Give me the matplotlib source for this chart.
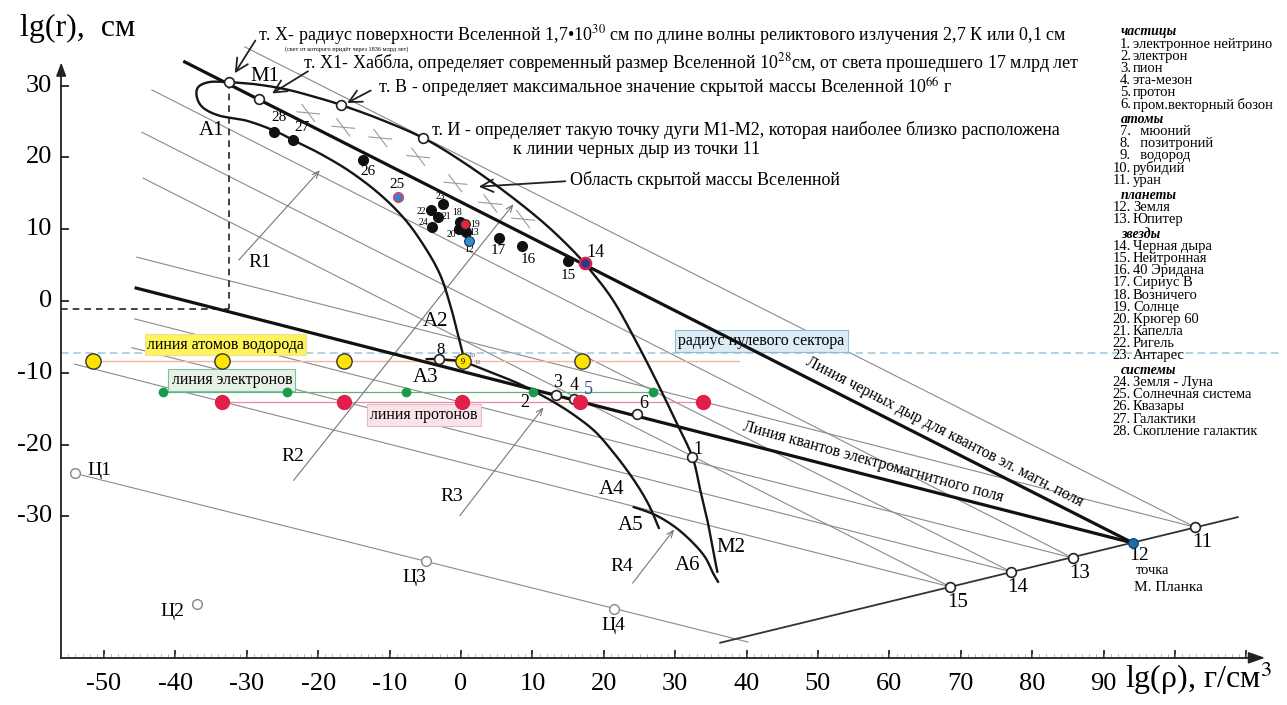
import numpy as np
import matplotlib
matplotlib.use('Agg')
import matplotlib.pyplot as plt

plt.rcParams['font.family'] = ['Liberation Serif', 'DejaVu Serif']
plt.rcParams['mathtext.fontset'] = 'stix'

# ---- data (lg rho, lg r) ----
planck = (94.1, -33.7)
bh_start = (-38.7, 33.3)          # black hole line -> Planck point
quanta_start = (-45.5, 1.8)       # quanta line -> Planck point

base_x = [36.3, 108.8]
base_y = [-47.6, -30.1]
base_names = ['11', '13', '14', '15']
base_pt_x = [102.8, 85.7, 77.0, 68.5]
base_pt_y = [-31.5, -35.8, -37.7, -39.8]

steep_x0 = [-30.3, -43.3, -44.7, -44.5]
steep_y0 = [35.4, 29.4, 23.5, 17.1]
shallow_x0 = [-45.4, -45.7, -46.1, -54.1]
shallow_y0 = [6.1, -2.5, -6.5, -8.8]

ts_names = ['Ц1', 'Ц2', 'Ц3', 'Ц4']
ts_x = [-54.1, -37.0, -4.9, 21.4]
ts_y = [-24.0, -42.2, -36.2, -42.9]
ts_lx = [-50.6, -40.4, -6.6, 21.4]
ts_ly = [-23.6, -43.3, -38.5, -45.2]
ts_line_x = [-54.1, 40.2]
ts_line_y = [-24.0, -47.5]

open_x = [-32.5, -28.3, -16.8, -5.3, -3.1, 13.3, 15.8, 24.6, 32.4]
open_y = [30.5, 28.1, 27.3, 22.7, -8.1, -13.1, -13.6, -15.7, -21.7]

obj_num = ['28', '27', '26', '23', '22', '21', '24', '18', '20', '13', '17', '16', '15']
obj_x = [-26.2, -23.5, -13.7, -2.5, -4.2, -3.2, -4.1, -0.1, -0.3, 0.7, 5.3, 8.5, 15.0]
obj_y = [23.5, 22.4, 19.6, 13.5, 12.7, 11.7, 10.3, 11.0, 10.0, 9.6, 8.8, 7.7, 5.6]
obj_lx = [-25.5, -22.3, -13.0, -2.9, -5.5, -2.0, -5.3, -0.6, -1.3, 1.8, 5.2, 9.4, 15.0]
obj_ly = [25.5, 24.2, 18.0, 14.5, 12.4, 11.7, 10.9, 12.3, 9.3, 9.5, 7.1, 5.8, 3.5]
obj_fs = [11, 11, 11, 7, 7, 7, 7, 7, 7, 7, 11, 11, 11]

cross_x = [-21.4, -16.5, -11.3, -6.0, -0.8, 4.1, 8.7]
cross_y = [26.2, 24.2, 22.7, 20.1, 16.4, 13.6, 11.4]

h_y, e_y, p_y, zero_y = -8.4, -12.7, -14.1, -7.3
h_x = [-51.5, -33.5, -16.4, 0.3, 16.9]
e_x = [-41.7, -24.4, -7.7, 10.1, 26.9]
p_x = [-33.5, -16.4, 0.1, 16.7, 33.9]

# curves
curveA_x = [-32.5, -35.2, -36.8, -37.0, -36.1, -33.8, -30.0, -26.1, -23.5, -19.7, -15.5,
            -11.3, -7.8, -5.0, -2.9, -1.5, -0.6, 0.1, 0.6]
curveA_y = [30.5, 30.5, 29.8, 28.4, 26.9, 25.8, 25.1, 23.7, 22.4, 20.5, 18.0,
            14.8, 11.3, 7.4, 3.6, -0.6, -4.0, -6.8, -8.5]
curveM_x = [-32.5, -28.9, -24.6, -20.4, -16.8, -11.3, -5.3, -0.1, 5.5, 11.1, 15.3, 18.1,
            21.3, 24.4, 27.5, 30.0, 32.4, 33.5, 34.5, 35.3, 35.9]
curveM_y = [30.5, 30.2, 29.5, 28.4, 27.3, 25.3, 22.7, 19.6, 15.7, 11.3, 7.4, 4.3,
            0.1, -5.4, -11.4, -16.6, -21.7, -26.3, -30.5, -34.7, -37.7]
curveC_x = [-4.8, -3.1, 0.3, 4.1, 7.6, 10.1, 13.2, 16.0, 18.8, 21.1, 23.2, 25.1, 26.5, 27.7]
curveC_y = [-8.1, -8.1, -8.5, -9.9, -11.3, -12.5, -14.2, -16.0, -18.2, -20.8, -23.5, -26.3, -28.8, -31.6]
curveA5_x = [24.2, 27.2, 30.0, 32.4, 34.2, 35.3, 36.0]
curveA5_y = [-28.7, -29.8, -31.5, -33.6, -35.7, -37.9, -39.1]

R_names = ['R1', 'R2', 'R3', 'R4']
R_x0 = [-31.4, -23.7, -0.4, 23.8]
R_y0 = [5.4, -25.3, -30.2, -39.6]
R_x1 = [-19.5, 7.6, 11.8, 30.1]
R_y1 = [18.5, 13.8, -14.5, -31.5]
R_lx = [-28.2, -23.5, -1.3, 22.5]
R_ly = [5.3, -21.6, -27.3, -37.0]

legend_groups = [
    ('частицы', ['1. электронное нейтрино', '2. электрон', '3. пион', '4. эта-мезон',
                 '5. протон', '6. пром.векторный бозон']),
    ('атомы', ['7.  мюоний', '8.  позитроний', '9.  водород', '10. рубидий', '11. уран']),
    ('планеты', ['12. Земля', '13. Юпитер']),
    ('звезды', ['14. Черная дыра', '15. Нейтронная', '16. 40 Эридана', '17. Сириус В',
                '18. Возничего', '19. Солнце', '20. Крюгер 60', '21. Капелла', '22. Ригель',
                '23. Антарес']),
    ('системы', ['24. Земля - Луна', '25. Солнечная система', '26. Квазары',
                 '27. Галактики', '28. Скопление галактик']),
]


def smooth(xs, ys, n=16):
    pts = np.column_stack([xs, ys]).astype(float)
    p = np.vstack([pts[0], pts, pts[-1]])
    out = []
    t = np.linspace(0, 1, n, endpoint=False)[:, None]
    for i in range(1, len(p) - 2):
        p0, p1, p2, p3 = p[i - 1], p[i], p[i + 1], p[i + 2]
        out.append(0.5 * (2 * p1 + (-p0 + p2) * t + (2 * p0 - 5 * p1 + 4 * p2 - p3) * t ** 2
                          + (-p0 + 3 * p1 - 3 * p2 + p3) * t ** 3))
    out.append(pts[-1][None])
    s = np.vstack(out)
    return s[:, 0], s[:, 1]


W, H = 1287, 705
fig = plt.figure(figsize=(W / 100, H / 100), dpi=100)
fig.patch.set_facecolor('white')
ax = fig.add_axes([10 / W, 0, 1 - 10 / W, 1 - 12 / H])
ax.set_facecolor('#f8f6f0')
ax.set_xlim(-63.17, 115.69)
ax.set_ylim(-56.27, 40.25)
ax.axis('off')

thin = dict(color='#8a8a8a', lw=0.8, zorder=2)

# ---- axes ----
ax.plot([-56, -56], [-49.7, 32.0], color='#222222', lw=1.3, zorder=3)
ax.annotate('', xy=(-56, 33.6), xytext=(-56, 31.5),
            arrowprops=dict(arrowstyle='-|>,head_length=0.8,head_width=0.3', color='#222222', lw=1.2))
ax.plot([-56, 111], [-49.7, -49.7], color='#222222', lw=1.3, zorder=3)
ax.annotate('', xy=(113.0, -49.7), xytext=(110, -49.7),
            arrowprops=dict(arrowstyle='-|>,head_length=1.0,head_width=0.35', color='#222222', lw=1.2))
for v in range(-30, 31, 10):
    ax.plot([-56, -55.1], [v, v], color='#222222', lw=1.3)
    ax.text(-57.3, v, '%d' % v, ha='right', va='center', fontsize=19)
for v in range(-50, 111, 10):
    ax.plot([v, v], [-49.7, -48.7], color='#222222', lw=1.3)
    if v <= 90:
        ax.text(v, -53.3, '%d' % v, ha='center', va='center', fontsize=19)
for v in range(-55, 111):
    ax.plot([v, v], [-49.7, -49.2], color='#8aa4b8', lw=0.5)
ax.text(-61.8, 38.0, 'lg(r),  см', ha='left', va='center', fontsize=23)
ax.text(93.0, -52.6, 'lg(ρ), г/см$^3$', ha='left', va='center', fontsize=23)

# ---- thin sector lines ----
for x0, y0, xe, ye in zip(steep_x0, steep_y0, base_pt_x, base_pt_y):
    ax.plot([x0, xe], [y0, ye], **thin)
for x0, y0, xe, ye in zip(shallow_x0, shallow_y0, base_pt_x, base_pt_y):
    ax.plot([x0, xe], [y0, ye], **thin)
ax.plot(ts_line_x, ts_line_y, **thin)
ax.plot(base_x, base_y, color='#333333', lw=1.3, zorder=3)

# ---- horizontal lines ----
ax.plot([-56, 115], [zero_y, zero_y], color='#9cc5dc', lw=1.1, ls=(0, (5, 3)), zorder=2)
ax.plot([h_x[0], 39], [h_y, h_y], color='#f0b898', lw=1.0, zorder=2)
ax.plot([e_x[0], e_x[-1]], [e_y, e_y], color='#5cb87a', lw=0.9, zorder=2)
ax.plot([p_x[0], p_x[-1]], [p_y, p_y], color='#e88aa0', lw=0.9, zorder=2)

# dashed guide from point X
ax.plot([open_x[0], open_x[0]], [open_y[0], -1.1], color='#222222', lw=1.2, ls=(0, (4, 3)), zorder=3)
ax.plot([-56, open_x[0]], [-1.1, -1.1], color='#222222', lw=1.2, ls=(0, (4, 3)), zorder=3)

# ---- thick lines ----
ax.plot([bh_start[0], planck[0]], [bh_start[1], planck[1]], color='#111111', lw=2.3, zorder=4)
ax.plot([quanta_start[0], planck[0]], [quanta_start[1], planck[1]], color='#111111', lw=2.3, zorder=4)

# ---- curves ----
for cx, cy in [(curveA_x, curveA_y), (curveM_x, curveM_y), (curveC_x, curveC_y), (curveA5_x, curveA5_y)]:
    sx, sy = smooth(cx, cy)
    ax.plot(sx, sy, color='#151515', lw=1.7, zorder=4)

# ---- crosses (hidden mass region) ----
for cx, cy in zip(cross_x, cross_y):
    ax.plot([cx - 1.6, cx + 1.6], [cy + 0.15, cy - 0.15], color='#9a9a9a', lw=0.8, zorder=3)
    ax.plot([cx - 0.9, cx + 0.9], [cy + 1.2, cy - 1.2], color='#9a9a9a', lw=0.8, zorder=3)

# ---- R arrows ----
for name, x0, y0, x1, y1, lx, ly in zip(R_names, R_x0, R_y0, R_x1, R_y1, R_lx, R_ly):
    ax.annotate('', xy=(x1, y1), xytext=(x0, y0),
                arrowprops=dict(arrowstyle='->,head_length=0.5,head_width=0.2', color='#777777', lw=0.8))
    ax.text(lx, ly, name, ha='center', va='center', fontsize=14)

# ---- points ----
ax.plot(open_x, open_y, 'o', ms=7, mfc='white', mec='#222222', mew=1.2, zorder=6)
ax.plot(base_pt_x, base_pt_y, 'o', ms=7, mfc='white', mec='#222222', mew=1.2, zorder=6)
ax.plot(ts_x, ts_y, 'o', ms=7, mfc='white', mec='#888888', mew=1.0, zorder=6)
ax.plot(obj_x, obj_y, 'o', ms=7, color='#111111', zorder=6)
ax.plot([-8.8], [14.5], 'o', ms=7, mfc='#3b7fc4', mec='#e0405a', mew=1.0, zorder=6)   # 25
ax.plot([0.6], [10.7], 'o', ms=7, mfc='#e02a3a', mec='#222222', mew=0.8, zorder=7)    # 19
ax.plot([1.1], [8.4], 'o', ms=7, mfc='#2f8fd0', mec='#1a3050', mew=0.8, zorder=6)     # 12
ax.plot([17.4], [5.3], 'o', ms=8, mfc='#2a3a8a', mec='#e0204a', mew=1.8, zorder=6)    # 14
ax.plot([planck[0]], [planck[1]], 'o', ms=7, mfc='#1b6fb0', mec='#0c3a60', mew=0.8, zorder=7)

ax.plot(h_x, [h_y] * len(h_x), 'o', ms=11, mfc='#ffe400', mec='#333333', mew=1.0, zorder=6)
ax.plot(e_x, [e_y] * len(e_x), 'o', ms=6, color='#1b9a4a', zorder=6)
ax.plot(p_x, [p_y] * len(p_x), 'o', ms=10, color='#e0204a', zorder=6)

# ---- point labels ----
for n, lx, ly, fs in zip(obj_num, obj_lx, obj_ly, obj_fs):
    ax.text(lx, ly, n, ha='center', va='center', fontsize=fs)
ax.text(-9.0, 16.2, '25', ha='center', va='center', fontsize=11)
ax.text(2.0, 10.6, '19', ha='center', va='center', fontsize=7)
ax.text(1.1, 7.2, '12', ha='center', va='center', fontsize=7)
ax.text(18.8, 6.8, '14', ha='center', va='center', fontsize=13)
ax.text(0.3, -8.5, '9', ha='center', va='center', fontsize=6, zorder=8)
ax.text(-0.9, -8.0, '7', ha='center', va='center', fontsize=5, color='#555555')
ax.text(1.5, -7.6, '10', ha='center', va='center', fontsize=5, color='#555555')
ax.text(2.4, -8.5, '11', ha='center', va='center', fontsize=5, color='#555555')
ax.text(-2.8, -6.8, '8', ha='center', va='center', fontsize=12)
for t, x, y in [('2', 8.9, -14.2), ('3', 13.5, -11.3), ('4', 15.8, -11.8), ('6', 25.6, -14.3),
                ('1', 33.2, -20.7)]:
    ax.text(x, y, t, ha='center', va='center', fontsize=13)
ax.text(17.8, -12.3, '5', ha='center', va='center', fontsize=13, color='#3a4a8a')

for name, x, y in zip(base_names, base_pt_x, base_pt_y):
    ax.text(x + 1.0, y - 2.2, name, ha='center', va='center', fontsize=15)
ax.text(95.0, -35.4, '12', ha='center', va='center', fontsize=14)
ax.text(94.5, -37.6, 'точка', ha='left', va='center', fontsize=10.5)
ax.text(94.3, -39.9, 'М. Планка', ha='left', va='center', fontsize=11)

for name, x, y in zip(ts_names, ts_lx, ts_ly):
    ax.text(x, y, name, ha='center', va='center', fontsize=14)

for t, x, y in [('A1', -34.9, 23.8), ('A2', -3.6, -2.9), ('A3', -5.0, -10.6), ('A4', 21.1, -26.3),
                ('A5', 23.8, -31.3), ('A6', 31.7, -36.8), ('M1', -27.5, 31.3), ('M2', 37.8, -34.4)]:
    ax.text(x, y, t, ha='center', va='center', fontsize=15)

# ---- boxed labels ----
ax.text(-33.0, -6.1, 'линия атомов водорода', ha='center', va='center', fontsize=11.5,
        bbox=dict(boxstyle='square,pad=0.15', fc='#fff45a', ec='#e8e0a0', lw=0.8))
ax.text(-32.1, -11.0, 'линия электронов', ha='center', va='center', fontsize=11.5,
        bbox=dict(boxstyle='square,pad=0.2', fc='#e6f2e6', ec='#7fbf9f', lw=0.8))
ax.text(-5.2, -15.9, 'линия протонов', ha='center', va='center', fontsize=11.5,
        bbox=dict(boxstyle='square,pad=0.2', fc='#f8e4e8', ec='#e8b8c4', lw=0.8))
ax.text(42.1, -5.6, 'радиус нулевого сектора', ha='center', va='center', fontsize=11.5,
        bbox=dict(boxstyle='square,pad=0.2', fc='#dcebf4', ec='#90bcd4', lw=0.8))

# ---- rotated line labels ----
ax.text(67.7, -18.3, 'Линия черных дыр для квантов эл. магн. поля', ha='center', va='center',
        fontsize=11.5, rotation=-27.3, rotation_mode='anchor')
ax.text(57.7, -22.4, 'Линия квантов электромагнитного поля', ha='center', va='center',
        fontsize=11.5, rotation=-15.4, rotation_mode='anchor')

# ---- annotations ----
arr = dict(arrowstyle='->,head_length=0.9,head_width=0.45', color='#222222', lw=1.3)
ax.text(-28.4, 37.1, 'т. X- радиус поверхности Вселенной 1,7•10$^{30}$ см по длине волны реликтового излучения 2,7 К или 0,1 см',
        ha='left', va='center', fontsize=13)
ax.text(-24.6, 35.05, '(свет от которого придёт через 1836 млрд лет)', ha='left', va='center', fontsize=4.5)
ax.annotate('', xy=(-31.9, 31.4), xytext=(-28.6, 36.6), arrowprops=arr)
ax.text(-22.1, 33.1, 'т. X1- Хаббла, определяет современный размер Вселенной 10$^{28}$см, от света прошедшего 17 млрд лет',
        ha='left', va='center', fontsize=13)
ax.annotate('', xy=(-26.8, 28.7), xytext=(-21.1, 32.2), arrowprops=arr)
ax.text(-11.6, 29.7, 'т. B - определяет максимальное значение скрытой массы Вселенной 10$^{66}$ г',
        ha='left', va='center', fontsize=13)
ax.annotate('', xy=(-16.3, 27.4), xytext=(-12.3, 29.5), arrowprops=arr)
ax.text(-4.1, 23.8, 'т. И - определяет такую точку дуги M1-M2, которая наиболее близко расположена',
        ha='left', va='center', fontsize=13)
ax.text(7.3, 21.1, 'к линии черных дыр из точки 11', ha='left', va='center', fontsize=13)
ax.text(15.3, 16.9, 'Область скрытой массы Вселенной', ha='left', va='center', fontsize=13)
ax.annotate('', xy=(2.1, 15.9), xytext=(15.0, 16.7), arrowprops=arr)

# ---- legend (right column) ----
ly = 32.0
first = True
for head, items in legend_groups:
    if not first:
        ly += 3.0
    first = False
    ax.text((1121 - 461) / 7.14, (301 - ly) / 7.18, head, ha='left', va='center', fontsize=10,
            fontweight='bold', style='italic')
    ly += 12.1
    for it in items:
        num, txt = it.split('.', 1)
        ax.text((1131 - 461) / 7.14, (301 - ly) / 7.18, num + '.', ha='right', va='center', fontsize=10.5)
        ax.text((1133 - 461) / 7.14, (301 - ly) / 7.18, txt.strip() if not txt.startswith('  ') else '  ' + txt.strip(),
                ha='left', va='center', fontsize=10.5)
        ly += 12.1

fig.savefig('out.png', dpi=100, facecolor=fig.get_facecolor())
